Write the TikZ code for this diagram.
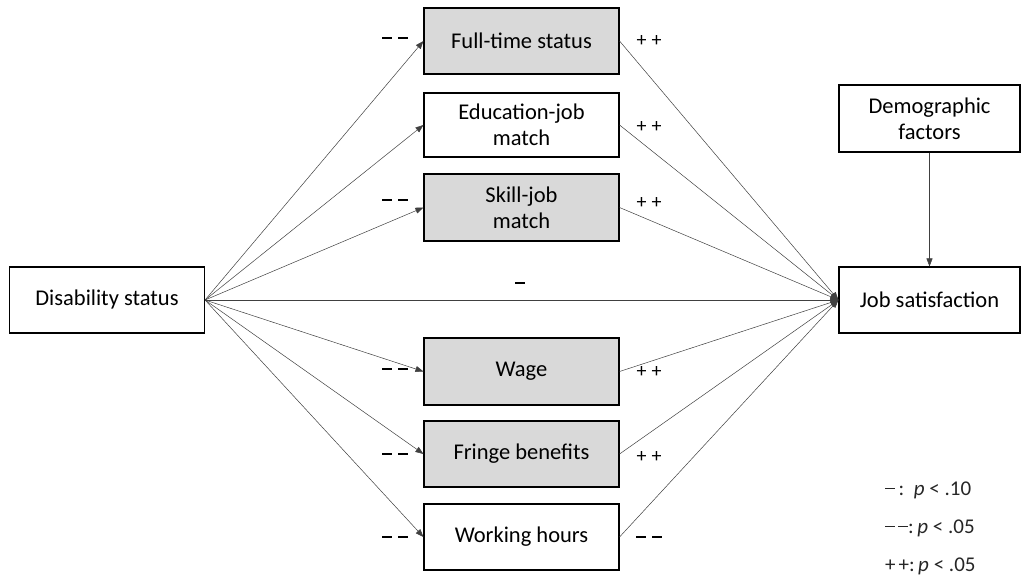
\documentclass[tikz,border=0pt]{standalone}
\usepackage{fontspec}
\setmainfont{Carlito}
\usetikzlibrary{arrows.meta}
\definecolor{boxgray}{HTML}{D9D9D9}
\newcommand\dsh{\rule[6pt]{10pt}{1.1pt}}
\newcommand\ddsh{\dsh\hspace{6pt}\dsh}
\newcommand\pp{+\hspace{5pt}+}
\tikzset{
  box/.style={draw=black, line width=1.1pt, minimum width=195pt, minimum height=66pt, inner sep=0pt, align=center, font=\fontsize{22.5}{26}\selectfont},
  grayfill/.style={fill=boxgray},
  conn/.style={draw=black!75, line width=0.5pt, -{Triangle[length=8pt,width=6pt]}},
  sig/.style={font=\fontsize{20}{24}\selectfont, inner sep=0pt},
  legend/.style={font=\fontsize{21}{24}\selectfont, inner sep=0pt, anchor=west, text=black!85}
}
\begin{document}
\begin{tikzpicture}[x=1pt,y=-1pt]
\useasboundingbox (0,0) rectangle (1029,578);
\node[box] (dis) at (107,300) {Disability status};
\node[box,grayfill] (ft) at (521.5,41) {Full-time status};
\node[box, minimum height=64pt] (edu) at (521.5,125) {Education-job\\match};
\node[box,grayfill, minimum height=67pt] (skill) at (521.5,207.5) {Skill-job\\match};
\node[box,grayfill, minimum height=67pt] (wage) at (521.5,371.5) {Wage};
\node[box,grayfill] (fringe) at (521.5,454) {Fringe benefits};
\node[box] (hours) at (521.5,537) {Working hours};
\node[box, minimum width=181pt] (job) at (929.5,300) {Job satisfaction};
\node[box, minimum width=181pt, minimum height=67pt] (demo) at (929.5,118.5) {Demographic\\factors};

\foreach \n in {ft,edu,skill,wage,fringe,hours}{
  \draw[conn] (dis.east) -- (\n.west);
  \draw[conn] (\n.east) -- (job.west);
}
\draw[conn] (dis.east) -- (job.west);
\draw[conn] (demo.south) -- (job.north);

\node[sig] (l1) at (395,41) {\ddsh};
\node[sig] (r1) at (649,41) {\pp};
\node[sig] (r2) at (649,127) {\pp};
\node[sig] (l3) at (395,203) {\ddsh};
\node[sig] (r3) at (649,203) {\pp};
\node[sig] (d0) at (520,286) {\dsh};
\node[sig] (l4) at (395,372) {\ddsh};
\node[sig] (r4) at (649,372) {\pp};
\node[sig] (l5) at (395,457) {\ddsh};
\node[sig] (r5) at (649,457) {\pp};
\node[sig] (l6) at (395,540) {\ddsh};
\node[sig] (r6) at (649,540) {\ddsh};

\node[legend] (g1) at (885,490) {\dsh\,:\ \ \textit{p} < .10};
\node[legend] (g2) at (885,528) {\dsh\hspace{3pt}\dsh:\,\textit{p} < .05};
\node[legend] (g3) at (885,566) {+\hspace{3pt}+:\,\textit{p} < .05};
\end{tikzpicture}
\end{document}
